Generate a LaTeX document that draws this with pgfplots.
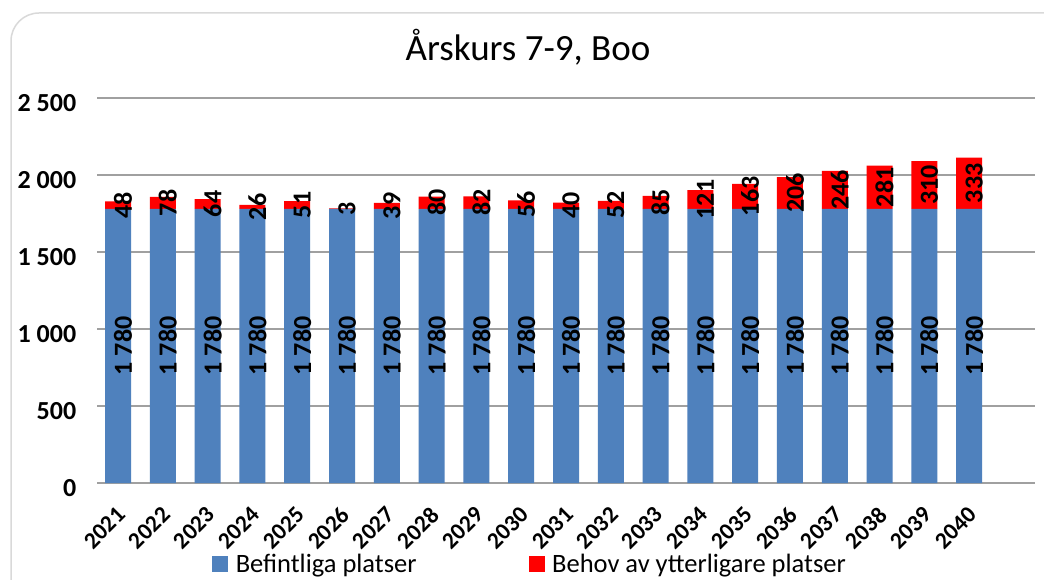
\documentclass[border=0pt]{standalone}
\usepackage{fontspec}
\setmainfont{Carlito}
\usepackage{pgfplots}
\usepackage{pgfplotstable}
\pgfplotsset{compat=1.18}
\definecolor{barblue}{HTML}{4F81BD}
\definecolor{barred}{HTML}{FF0000}
\definecolor{gridgray}{HTML}{A0A0A0}
\definecolor{framegray}{HTML}{D9D9D9}

\pgfplotstableread{
idx year base extra
0 2021 1780 48
1 2022 1780 78
2 2023 1780 64
3 2024 1780 26
4 2025 1780 51
5 2026 1780 3
6 2027 1780 39
7 2028 1780 80
8 2029 1780 82
9 2030 1780 56
10 2031 1780 40
11 2032 1780 52
12 2033 1780 85
13 2034 1780 121
14 2035 1780 163
15 2036 1780 206
16 2037 1780 246
17 2038 1780 281
18 2039 1780 310
19 2040 1780 333
}\datatable

\begin{document}
\begin{tikzpicture}[x=1pt,y=1pt]
\useasboundingbox (0,0) rectangle (1044,579);
\fill[white] (0,0) rectangle (1044,579);
\draw[framegray, line width=1.5pt, rounded corners=28pt] (11,-30) rectangle (1080,566);
\node[anchor=base, inner sep=0pt, font=\fontsize{37}{42}\selectfont] at (528,518) {Årskurs 7-9, Boo};

\begin{axis}[
  at={(97pt,96pt)}, anchor=south west, scale only axis,
  width=938pt, height=385pt,
  xmin=-0.47, xmax=20.47, ymin=0, ymax=2500,
  ybar stacked, bar width=26pt,
  axis line style={draw=none},
  major tick length=0pt,
  ymajorgrids, major grid style={gridgray, line width=1.6pt},
  ytick={0,500,1000,1500,2000,2500},
  xtick={0,...,19},
  xticklabels from table={\datatable}{year},
  yticklabel style={font=\bfseries\fontsize{26}{30}\selectfont, inner sep=0pt,
     anchor=east, xshift=-20.6pt, yshift=-5pt,
     /pgf/number format/.cd, 1000 sep={\ }, assume math mode=true},
  xticklabel style={font=\bfseries\fontsize{23.5}{26}\selectfont, inner sep=0pt,
     xshift=3.5pt, yshift=-28pt, rotate=45, anchor=east},
  legend style={at={(rel axis cs:0.4606,-0.2094)}, anchor=center, draw=none, fill=none,
     font=\fontsize{26.5}{30}\selectfont, inner sep=0pt, nodes={inner sep=0pt},
     legend columns=2,
     /tikz/every odd column/.append style={column sep=7.5pt},
     /tikz/every even column/.append style={column sep=112pt}},
  legend image code/.code={\fill[#1] (0pt,-8pt) rectangle (16pt,8pt);},
]
\addplot[fill=barblue, draw=none] table[x=idx, y=base]{\datatable};
\addplot[fill=barred, draw=none] table[x=idx, y=extra]{\datatable};
\legend{Befintliga platser, Behov av ytterligare platser}
\end{axis}

\begin{axis}[
  at={(97pt,96pt)}, anchor=south west, scale only axis,
  width=938pt, height=385pt,
  xmin=-0.47, xmax=20.47, ymin=0, ymax=2500,
  hide axis, clip=false,
  nodes near coords={\pgfmathprintnumber[assume math mode=true,1000 sep={\ }]{\pgfplotspointmeta}},
  nodes near coords align=center,
  every node near coord/.append style={font=\bfseries\fontsize{26}{30}\selectfont, black,
     inner sep=0pt, xshift=5pt, rotate=90},
]
\addplot[draw=none, mark=none, point meta=explicit] table[x=idx, y expr=\thisrow{base}/2, meta=base]{\datatable};
\addplot[draw=none, mark=none, point meta=explicit] table[x=idx, y expr=\thisrow{base}+\thisrow{extra}/2, meta=extra]{\datatable};
\end{axis}
\end{tikzpicture}
\end{document}
